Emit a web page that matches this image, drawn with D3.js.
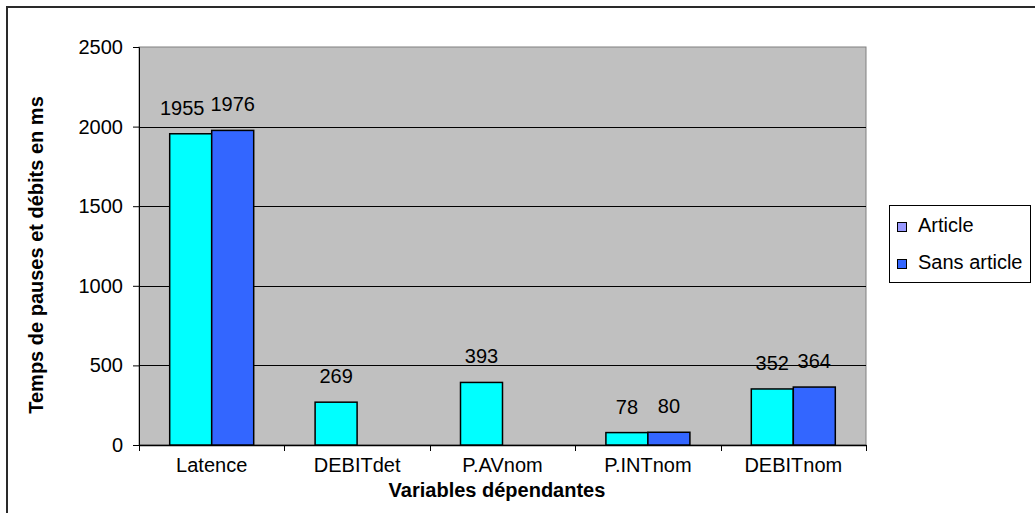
<!DOCTYPE html>
<html>
<head>
<meta charset="utf-8">
<script src="https://cdn.jsdelivr.net/npm/d3@7"></script>
<style>
  html, body { margin: 0; padding: 0; background: #ffffff; }
  svg { display: block; }
  text { font-family: "Liberation Sans", Arial, sans-serif; fill: #000; }
</style>
</head>
<body>
<script>
// Chart data
const categories = ["Latence", "DEBITdet", "P.AVnom", "P.INTnom", "DEBITnom"];
const seriesNames = ["Article", "Sans article"];
const article = [1955, 269, 393, 78, 352];
const sansArticle = [1976, null, null, 80, 364];
const yTicks = [0, 500, 1000, 1500, 2000, 2500];

const barColors = ["#00ffff", "#3366ff"];
const legendColors = ["#9999ff", "#3366ff"];

const W = 1035, H = 513;
const plot = { left: 139, right: 866, top: 47, bottom: 445 };

const svg = d3.select("body").append("svg")
  .attr("width", W).attr("height", H);

// Outer chart frame
svg.append("rect")
  .attr("x", 7).attr("y", 7)
  .attr("width", W).attr("height", H)
  .attr("fill", "#ffffff")
  .attr("stroke", "#2a2a2a").attr("stroke-width", 2);

const x = d3.scaleBand().domain(categories).range([plot.left, plot.right]);
const y = d3.scaleLinear().domain([0, 2500]).range([plot.bottom, plot.top]);
const barW = 42;
const xs = d3.scaleBand().domain(seriesNames).range([-barW, barW]);

// Plot area
svg.append("rect")
  .attr("x", plot.left).attr("y", plot.top)
  .attr("width", plot.right - plot.left).attr("height", plot.bottom - plot.top)
  .attr("fill", "#c0c0c0")
  .attr("stroke", "#808080").attr("stroke-width", 1);

// Gridlines
svg.append("g").selectAll("line")
  .data(yTicks.filter(t => t > 0 && t < 2500))
  .join("line")
  .attr("x1", plot.left).attr("x2", plot.right)
  .attr("y1", d => Math.round(y(d)) + 0.5).attr("y2", d => Math.round(y(d)) + 0.5)
  .attr("stroke", "#000").attr("stroke-width", 1);

// Y axis
const yAxis = svg.append("g")
  .attr("transform", `translate(${plot.left},0)`)
  .call(d3.axisLeft(y).tickValues(yTicks).tickSize(6).tickPadding(10).tickFormat(d3.format("d")));
yAxis.select(".domain").attr("stroke", "#000");
yAxis.selectAll(".tick line").attr("stroke", "#000");
yAxis.selectAll("text").attr("font-size", 20).attr("font-family", "Liberation Sans, Arial, sans-serif");

// X axis
const xAxis = svg.append("g")
  .attr("transform", `translate(0,${plot.bottom})`)
  .call(d3.axisBottom(x).tickSize(0).tickPadding(13));
xAxis.select(".domain").attr("stroke", "#000").attr("stroke-width", 1.5);
xAxis.selectAll("text").attr("font-size", 20).attr("font-family", "Liberation Sans, Arial, sans-serif");
// Tick marks at category boundaries
svg.append("g").selectAll("line")
  .data(categories.map(c => x(c)).concat([plot.right]))
  .join("line")
  .attr("x1", d => Math.round(d) + 0.5).attr("x2", d => Math.round(d) + 0.5)
  .attr("y1", plot.bottom).attr("y2", plot.bottom + 6)
  .attr("stroke", "#000");

// Bars
const rows = [];
categories.forEach((c, i) => {
  [article[i], sansArticle[i]].forEach((v, s) => {
    if (v != null) rows.push({ cat: c, series: seriesNames[s], s, value: v });
  });
});

svg.append("g").selectAll("rect")
  .data(rows)
  .join("rect")
  .attr("x", d => x(d.cat) + x.bandwidth() / 2 + xs(d.series))
  .attr("y", d => y(d.value))
  .attr("width", xs.bandwidth())
  .attr("height", d => y(0) - y(d.value))
  .attr("fill", d => barColors[d.s])
  .attr("stroke", "#000").attr("stroke-width", 1.5);

// Value labels
const labels = svg.append("g").selectAll("text")
  .data(rows)
  .join("text")
  .attr("x", d => x(d.cat) + x.bandwidth() / 2 + xs(d.series) + xs.bandwidth() / 2)
  .attr("y", d => y(d.value) - 19)
  .attr("text-anchor", "middle")
  .attr("font-size", 20)
  .text(d => d.value);

// Nudge overlapping label pairs apart
categories.forEach(c => {
  const pair = labels.filter(d => d.cat === c).nodes();
  if (pair.length === 2) {
    const a = pair[0].getBBox(), b = pair[1].getBBox();
    const overlap = a.x + a.width - b.x;
    if (overlap > -4) {
      const cx = +pair[0].getAttribute("x");
      pair[0].setAttribute("x", cx - overlap - 6);
    }
  }
});

// Axis titles
svg.append("text")
  .attr("x", 497).attr("y", 497)
  .attr("text-anchor", "middle")
  .attr("font-size", 20).attr("font-weight", "bold")
  .text("Variables dépendantes");

svg.append("text")
  .attr("transform", "translate(43,255) rotate(-90)")
  .attr("text-anchor", "middle")
  .attr("font-size", 20).attr("font-weight", "bold")
  .text("Temps de pauses et débits en ms");

// Legend
const lg = svg.append("g");
lg.append("rect")
  .attr("x", 889.5).attr("y", 205.5).attr("width", 141).attr("height", 77)
  .attr("fill", "#fff").attr("stroke", "#000");
seriesNames.forEach((name, i) => {
  const yy = 222 + i * 37;
  lg.append("rect")
    .attr("x", 897.5).attr("y", yy + 0.5).attr("width", 9).attr("height", 9)
    .attr("fill", legendColors[i]).attr("stroke", "#000");
  lg.append("text")
    .attr("x", 918).attr("y", yy + 10)
    .attr("font-size", 20)
    .text(name);
});
</script>
</body>
</html>
